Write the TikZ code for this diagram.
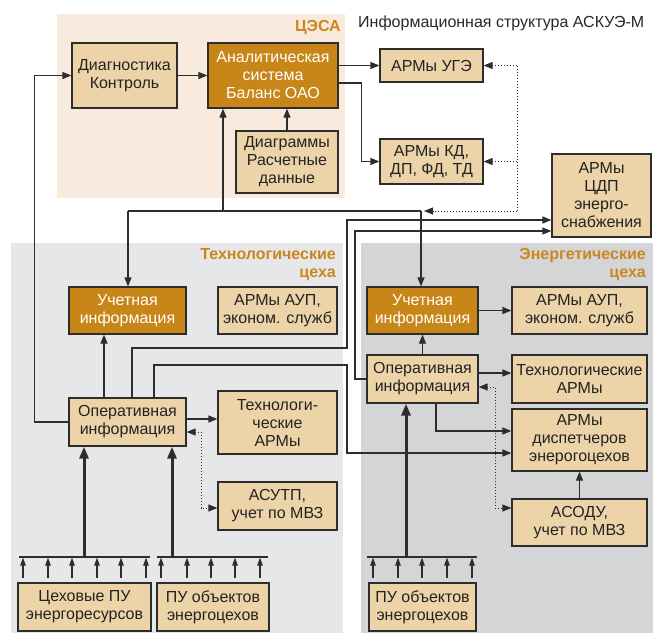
\documentclass[tikz,border=0pt]{standalone}
\usepackage{fontspec}
\setmainfont{Liberation Sans}
\usetikzlibrary{arrows.meta,calc}
\definecolor{boxfill}{RGB}{237,211,168}
\definecolor{boxdark}{RGB}{200,134,25}
\definecolor{lineC}{RGB}{45,45,45}
\definecolor{labelC}{RGB}{204,134,30}
\definecolor{bgA}{RGB}{248,235,221}
\definecolor{bgB}{RGB}{230,231,233}
\definecolor{bgC}{RGB}{212,213,215}
\begin{document}
\begin{tikzpicture}[x=1pt,y=-1pt,
  font=\fontsize{16}{18}\selectfont,
  lbox/.style={draw=lineC, line width=1.2pt, fill=boxfill, align=center, inner sep=0pt, text={rgb,255:red,35;green,35;blue,35}},
  dbox/.style={lbox, fill=boxdark, text=white},
  conn/.style={draw=lineC, line width=1.2pt},
  arr/.style={conn, -{Triangle[length=9pt,width=7pt]}},
  thickarr/.style={draw=lineC, line width=3pt, -{Triangle[length=12pt,width=9pt]}},
  smallarr/.style={draw=lineC, line width=1.2pt, -{Triangle[length=8pt,width=5.5pt]}},
  dotline/.style={draw=lineC, line width=1pt, dotted},
  dotarr/.style={dotline, -{Triangle[length=9pt,width=7pt]}},
  dotboth/.style={dotline, {Triangle[length=9pt,width=7pt]}-{Triangle[length=9pt,width=7pt]}},
  grp/.style={font=\fontsize{16}{17.5}\selectfont\bfseries, text=labelC, align=right, inner sep=0pt}
]
\useasboundingbox (0,0) rectangle (653,633);
\fill[white] (0,0) rectangle (653,633);
% panels
\fill[bgA] (57,14) rectangle (345,198);
\fill[bgB] (11,243) rectangle (343,633);
\fill[bgC] (361,243) rectangle (653,633);

% labels
\node[anchor=west, inner sep=0pt, text={rgb,255:red,40;green,40;blue,40}] (title) at (358,23) {Информационная структура АСКУЭ-М};
\node[grp, anchor=east] (lcesa) at (341,28) {ЦЭСА};
\node[grp, anchor=east] (ltech) at (336,264.5) {Технологические\\цеха};
\node[grp, anchor=east] (lener) at (646,264.5) {Энергетические\\цеха};

% boxes
\node[lbox, minimum width=105pt, minimum height=65pt] (diag) at (124.5,75.5) {Диагностика\\Контроль};
\node[dbox, minimum width=130pt, minimum height=65pt] (anal) at (273,75.5) {Аналитическая\\система\\Баланс ОАО};
\node[lbox, minimum width=102pt, minimum height=62pt] (diagr) at (287,162) {Диаграммы\\Расчетные\\данные};
\node[lbox, minimum width=103pt, minimum height=33pt] (uge) at (431.5,65.5) {АРМы УГЭ};
\node[lbox, minimum width=103pt, minimum height=45pt] (kd) at (431.5,161.5) {АРМы КД,\\ДП, ФД, ТД};
\node[lbox, minimum width=99pt, minimum height=83pt] (cdp) at (601.5,195.5) {АРМы\\ЦДП\\энерго-\\снабжения};

\node[dbox, minimum width=117pt, minimum height=47pt] (tuch) at (127.5,310.5) {Учетная\\информация};
\node[lbox, minimum width=119pt, minimum height=47pt] (taup) at (277.5,310.5) {АРМы АУП,\\эконом. служб};
\node[lbox, minimum width=117pt, minimum height=48pt] (top) at (127.5,422) {Оперативная\\информация};
\node[lbox, minimum width=119pt, minimum height=63pt] (ttech) at (277.5,422.5) {Технологи-\\ческие\\АРМы};
\node[lbox, minimum width=119pt, minimum height=48pt] (tasutp) at (277.5,506) {АСУТП,\\учет по МВЗ};
\node[lbox, minimum width=133pt, minimum height=48pt] (tpu1) at (84.5,607) {Цеховые ПУ\\энергоресурсов};
\node[lbox, minimum width=112pt, minimum height=48pt] (tpu2) at (213,607) {ПУ объектов\\энергоцехов};

\node[dbox, minimum width=111pt, minimum height=47pt] (euch) at (422.5,310.5) {Учетная\\информация};
\node[lbox, minimum width=135pt, minimum height=47pt] (eaup) at (579.5,310.5) {АРМы АУП,\\эконом. служб};
\node[lbox, minimum width=111pt, minimum height=48pt] (eop) at (422.5,379) {Оперативная\\информация};
\node[lbox, minimum width=135pt, minimum height=48pt] (etech) at (579.5,379) {Технологические\\АРМы};
\node[lbox, minimum width=135pt, minimum height=62pt] (edisp) at (579.5,440) {АРМы\\диспетчеров\\энерогоцехов};
\node[lbox, minimum width=135pt, minimum height=47pt] (easodu) at (579.5,522.5) {АСОДУ,\\учет по МВЗ};
\node[lbox, minimum width=107pt, minimum height=48pt] (epu) at (422.5,607) {ПУ объектов\\энергоцехов};

% connectors top
\draw[arr] (diag) -- (anal);
\draw[arr] (anal.east |- uge.west) -- (uge.west);
\draw[arr] ([yshift=-7.5pt]anal.east) -- ++(23,0) |- (kd.west);
\draw[arr] (diagr.north) -- (diagr.north |- anal.south);

\coordinate (busL) at (128,211);
\coordinate (busR) at (421,211);
\coordinate (busA) at (223,211);
\draw[conn] (busL) -- (busR);
\draw[arr] (busA) -- (busA |- anal.south);
\draw[arr] (busL) -- (busL |- tuch.north);
\draw[arr] (busR) -- (busR |- euch.north);

\coordinate (dT) at (517,65.5);
\coordinate (dB) at (517,211);
\draw[dotline] (dT) -- (dB);
\draw[dotarr] (dT) -- (uge.east);
\draw[dotarr] (dT |- kd.east) -- (kd.east);
\draw[dotarr] (dB) -- ([xshift=3pt]busR);

% to CDP
\draw[arr] ([xshift=4.5pt]top.north) |- (347,348) -- (347,220) -- ([yshift=-24.5pt]cdp.west);
\draw[arr] (eop.west) -- (355,379) -- (355,231) -- ([yshift=-35.5pt]cdp.west);
% to dispatchers
\draw[arr] ([xshift=26.5pt]top.north) |- (347,365) -- (347,453) -- ([yshift=-13pt]edisp.west);
\draw[arr] ([xshift=13.5pt]eop.south) |- ([yshift=9pt]edisp.west);

% tech side
\draw[arr] ([xshift=-23.5pt]top.north) -- ([xshift=-23.5pt]tuch.south);
\draw[arr] ([yshift=3pt]top.east) -- ([yshift=3.5pt]ttech.west);
\draw[arr] (top.west) -- ++(-34,0) |- (diag.west);
\draw[dotboth] ([yshift=-10pt]top.east) -- (201,432) -- (201,508) -- ([yshift=-2pt]tasutp.west);

% energy side
\draw[arr] (euch) -- (eaup);
\draw[arr] (eop) -- (euch);
\draw[arr] ([yshift=6pt]eop.east) -- ([yshift=6pt]etech.west);
\draw[arr] (easodu) -- (edisp);
\draw[dotboth] ([yshift=-8pt]eop.east) -- (495,387) -- (495,508) -- ([yshift=14.5pt]easodu.west);

% buses
\draw[conn] (19,557) -- (150,557);
\draw[conn] (157,557) -- (268,557);
\draw[conn] (367,557) -- (477,557);
\coordinate (b1) at (84,557);
\coordinate (b2) at (172,557);
\coordinate (b3) at (406,557);
\draw[thickarr] (b1) -- (b1 |- top.south);
\draw[thickarr] (b2) -- (b2 |- top.south);
\draw[thickarr] (b3) -- (b3 |- eop.south);
\foreach \x in {23,48,72,97,121,146,161,187,211,235,260,373,398,422,447,472}
  \draw[smallarr] (\x,578) -- (\x,557.6);
\end{tikzpicture}
\end{document}
